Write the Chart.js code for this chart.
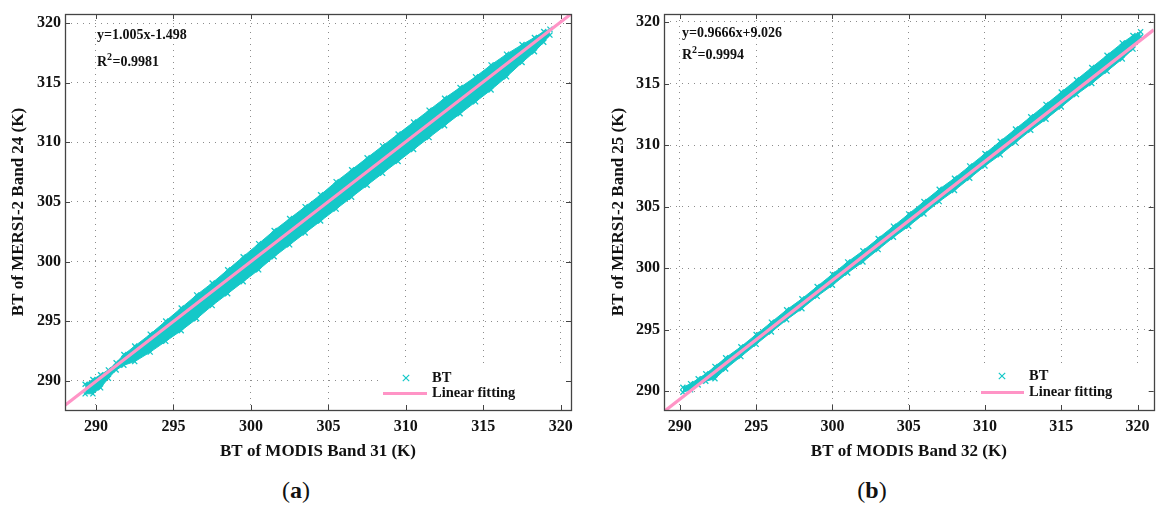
<!DOCTYPE html>
<html>
<head>
<meta charset="utf-8">
<title>MERSI-2 vs MODIS brightness temperature</title>
<script src="https://cdn.jsdelivr.net/npm/chart.js@4/dist/chart.umd.min.js"></script>
<style>
  html, body { margin: 0; padding: 0; background: #fff; width: 1159px; height: 513px; overflow: hidden; }
  canvas { position: absolute; top: 0; }
  #chartA { left: 0; }
  #chartB { left: 600px; }
  .cap { position: absolute; top: 477px; width: 60px; margin-left: -30px; text-align: center;
         font: 24px "Liberation Serif", "Times New Roman", serif; color: #111; }
  .cap b { font-weight: bold; }
</style>
</head>
<body>
<canvas id="chartA" width="585" height="470"></canvas>
<canvas id="chartB" width="559" height="470"></canvas>
<div class="cap" style="left:296px">(<b>a</b>)</div>
<div class="cap" style="left:872px">(<b>b</b>)</div>

<script>
// Tick values shared by both panels (K)
const xTicks = [290, 295, 300, 305, 310, 315, 320];
const yTicks = [290, 295, 300, 305, 310, 315, 320];

// Panel (a): MODIS Band 31 vs MERSI-2 Band 24 — outline of the dense BT point cloud
const aBandX     = [289.3, 289.8, 290.3, 290.8, 291.3, 291.8, 292.5, 293.5, 294.5, 295.5, 296.5, 297.5, 298.5, 299.5,
                    300.5, 301.5, 302.5, 303.5, 304.5, 305.5, 306.5, 307.5, 308.5, 309.5, 310.5, 311.5, 312.5, 313.5,
                    314.5, 315.5, 316.5, 317.5, 318.3, 318.9, 319.3];
const aBandUpper = [289.7, 290.1, 290.5, 290.9, 291.5, 292.2, 292.9, 293.9, 295.0, 296.1, 297.2, 298.2, 299.3, 300.4,
                    301.5, 302.6, 303.6, 304.6, 305.6, 306.7, 307.7, 308.7, 309.7, 310.7, 311.7, 312.7, 313.7, 314.6,
                    315.5, 316.5, 317.4, 318.2, 318.8, 319.3, 319.5];
const aBandLower = [288.9, 288.9, 289.4, 290.2, 290.9, 291.3, 291.6, 292.4, 293.3, 294.2, 295.2, 296.3, 297.3, 298.3,
                    299.3, 300.4, 301.4, 302.4, 303.4, 304.4, 305.4, 306.4, 307.4, 308.4, 309.4, 310.4, 311.4, 312.4,
                    313.4, 314.4, 315.5, 316.7, 317.6, 318.4, 319.0];
const aSlope = 1.005, aIntercept = -1.498, aR2 = '0.9981';
const aXRange = [288, 320.66], aYRange = [287.54, 320.77];

// Panel (b): MODIS Band 32 vs MERSI-2 Band 25
const bBandX     = [290.2, 290.7, 291.2, 291.7, 292.3, 293, 294, 295, 296, 297, 298, 299, 300, 301, 302, 303, 304,
                    305, 306, 307, 308, 309, 310, 311, 312, 313, 314, 315, 316, 317, 318, 319, 319.7, 320.2];
const bBandUpper = [290.3, 290.6, 291.0, 291.4, 292.0, 292.7, 293.6, 294.6, 295.6, 296.6, 297.5, 298.5, 299.5, 300.5,
                    301.4, 302.4, 303.4, 304.4, 305.4, 306.4, 307.3, 308.3, 309.3, 310.3, 311.3, 312.3, 313.3, 314.3,
                    315.3, 316.3, 317.3, 318.3, 318.9, 319.2];
const bBandLower = [289.9, 290.1, 290.5, 290.8, 291.0, 291.8, 292.8, 293.8, 294.8, 295.8, 296.7, 297.7, 298.6, 299.6,
                    300.5, 301.5, 302.5, 303.4, 304.4, 305.4, 306.3, 307.3, 308.3, 309.2, 310.2, 311.2, 312.1, 313.1,
                    314.1, 315.0, 316.0, 317.0, 317.8, 318.8];
const bSlope = 0.9666, bIntercept = 9.026, bR2 = '0.9994';
const bXRange = [288.96, 321.06], bYRange = [288.46, 320.65];

const CYAN = '#14c8c8';
const PINK = '#ff94c6';
const INK = '#111111';
const SERIF = '"Liberation Serif", "Times New Roman", serif';

// Draws the boxed frame with inward ticks, the fit equation and the in-plot legend
const boxPlugin = {
  id: 'box',
  afterDatasetsDraw(chart, _args, o) {
    const { ctx, chartArea: c } = chart;
    ctx.save();
    // legend panel
    ctx.fillStyle = '#fff';
    ctx.fillRect(o.legend.x0, o.legend.y0, c.right - o.legend.x0, c.bottom - o.legend.y0);
    ctx.strokeStyle = CYAN; ctx.lineWidth = 1.2;
    const m = o.legend.marker, r = 3.2;
    ctx.beginPath();
    ctx.moveTo(m[0] - r, m[1] - r); ctx.lineTo(m[0] + r, m[1] + r);
    ctx.moveTo(m[0] + r, m[1] - r); ctx.lineTo(m[0] - r, m[1] + r);
    ctx.stroke();
    ctx.strokeStyle = PINK; ctx.lineWidth = 3;
    ctx.beginPath();
    ctx.moveTo(o.legend.line[0], o.legend.line[2]); ctx.lineTo(o.legend.line[1], o.legend.line[2]);
    ctx.stroke();
    ctx.fillStyle = INK;
    ctx.font = 'bold 14.5px ' + SERIF;
    ctx.textBaseline = 'middle'; ctx.textAlign = 'left';
    ctx.fillText('BT', o.legend.textX, m[1]);
    ctx.fillText('Linear fitting', o.legend.textX, o.legend.line[2]);

    // fit equation and R²
    const e = o.equation;
    ctx.font = 'bold 14px ' + SERIF;
    ctx.fillText(e.text, e.x, e.y1);
    ctx.fillText('R', e.x, e.y2);
    const rw = ctx.measureText('R').width;
    ctx.font = 'bold 10px ' + SERIF;
    ctx.fillText('2', e.x + rw, e.y2 - 5);
    const sw = ctx.measureText('2').width;
    ctx.font = 'bold 14px ' + SERIF;
    ctx.fillText('=' + e.r2, e.x + rw + sw + 0.5, e.y2);
    ctx.restore();
  },
  afterDraw(chart) {
    const { ctx, chartArea: c, scales: { x, y } } = chart;
    ctx.save();
    ctx.strokeStyle = '#444'; ctx.lineWidth = 1;
    ctx.beginPath();
    const L = 5;
    xTicks.forEach(v => {
      const px = Math.round(x.getPixelForValue(v)) + 0.5;
      ctx.moveTo(px, c.bottom); ctx.lineTo(px, c.bottom - L);
      ctx.moveTo(px, c.top); ctx.lineTo(px, c.top + L);
    });
    yTicks.forEach(v => {
      const py = Math.round(y.getPixelForValue(v)) + 0.5;
      ctx.moveTo(c.left, py); ctx.lineTo(c.left + L, py);
      ctx.moveTo(c.right, py); ctx.lineTo(c.right - L, py);
    });
    ctx.stroke();
    ctx.lineWidth = 1.3;
    ctx.strokeRect(Math.round(c.left) + 0.5, Math.round(c.top) + 0.5,
                   Math.round(c.right - c.left), Math.round(c.bottom - c.top));
    ctx.restore();
  }
};

function buildPanel(id, p) {
  const fitPts = p.xRange.map(xv => ({ x: xv, y: p.slope * xv + p.intercept }));
  const upper = p.bandX.map((xv, i) => ({ x: xv, y: p.upper[i] }));
  const lower = p.bandX.map((xv, i) => ({ x: xv, y: p.lower[i] }));
  const pointStyle = {
    pointStyle: 'crossRot', pointRadius: 3.6, pointBorderWidth: 1.3,
    pointBorderColor: CYAN, pointBackgroundColor: CYAN
  };
  const tickFont = { family: SERIF, size: 16, weight: 'bold' };
  const titleFont = { family: SERIF, size: 17, weight: 'bold' };
  const gridOpts = { color: '#8c8c8c', lineWidth: 1, drawTicks: false };
  const borderOpts = { display: false, dash: [1, 5] };

  new Chart(document.getElementById(id), {
    type: 'scatter',
    data: {
      datasets: [
        { label: 'Linear fitting', type: 'line', data: fitPts, borderColor: PINK, borderWidth: 3.2,
          pointRadius: 0, fill: false },
        Object.assign({ label: 'BT', type: 'line', data: upper, borderColor: CYAN, borderWidth: 1,
          backgroundColor: CYAN, fill: '+1' }, pointStyle),
        Object.assign({ label: 'BT', type: 'line', data: lower, borderColor: CYAN, borderWidth: 1,
          backgroundColor: CYAN, fill: false }, pointStyle)
      ]
    },
    options: {
      responsive: false, animation: false, devicePixelRatio: 1,
      layout: { padding: { top: 14, right: p.padRight, left: 0, bottom: 0 } },
      plugins: {
        legend: { display: false },
        tooltip: { enabled: false },
        box: { legend: p.legend, equation: p.equation }
      },
      scales: {
        x: {
          type: 'linear', min: p.xRange[0], max: p.xRange[1],
          afterBuildTicks: s => { s.ticks = xTicks.map(v => ({ value: v })); },
          afterFit: s => { s.height = 60; },
          ticks: { font: tickFont, color: INK, padding: 7 },
          grid: gridOpts, border: borderOpts,
          title: { display: true, text: p.xTitle, font: titleFont, color: INK, padding: { top: 0, bottom: 8 } }
        },
        y: {
          type: 'linear', min: p.yRange[0], max: p.yRange[1],
          afterBuildTicks: s => { s.ticks = yTicks.map(v => ({ value: v })); },
          afterFit: s => { s.width = p.yAxisWidth; },
          ticks: { font: tickFont, color: INK, padding: 4 },
          grid: gridOpts, border: borderOpts,
          title: { display: true, text: p.yTitle, font: titleFont, color: INK, padding: { top: 8, bottom: 0 } }
        }
      }
    },
    plugins: [boxPlugin]
  });
}

buildPanel('chartA', {
  bandX: aBandX, upper: aBandUpper, lower: aBandLower,
  slope: aSlope, intercept: aIntercept,
  xRange: aXRange, yRange: aYRange,
  xTitle: 'BT of MODIS Band 31 (K)', yTitle: 'BT of MERSI-2 Band 24 (K)',
  padRight: 14, yAxisWidth: 65,
  legend: { x0: 380, y0: 364, marker: [406, 378], line: [383, 427, 393.5], textX: 432 },
  equation: { text: 'y=1.005x-1.498', r2: aR2, x: 97, y1: 35, y2: 62 }
});

buildPanel('chartB', {
  bandX: bBandX, upper: bBandUpper, lower: bBandLower,
  slope: bSlope, intercept: bIntercept,
  xRange: bXRange, yRange: bYRange,
  xTitle: 'BT of MODIS Band 32 (K)', yTitle: 'BT of MERSI-2 Band 25 (K)',
  padRight: 1, yAxisWidth: 64,
  legend: { x0: 378, y0: 363, marker: [402, 376], line: [381, 424, 392.5], textX: 429 },
  equation: { text: 'y=0.9666x+9.026', r2: bR2, x: 82, y1: 33, y2: 55 }
});
</script>
</body>
</html>
